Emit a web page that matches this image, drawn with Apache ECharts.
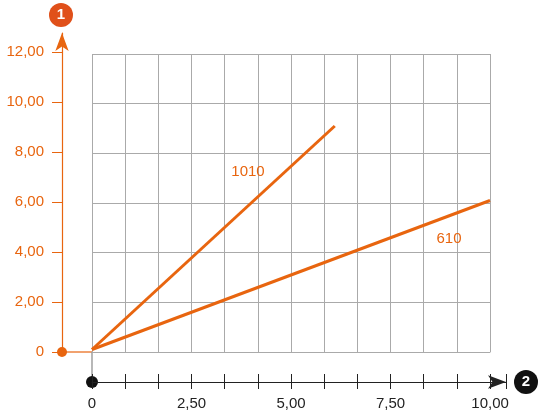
<!DOCTYPE html><html><head><meta charset="utf-8"><script src="https://cdn.jsdelivr.net/npm/echarts@6/dist/echarts.min.js"></script></head><body style="margin:0"><div id="c" style="width:540px;height:417px"></div><script>
const series1010=[[0,0.1],[6.1,9.1]];
const series610=[[0,0.1],[10,6.1]];
const label1010=[3.92,7.24], label610=[8.97,4.56];
const OR='#e8650f';
const fmt=v=>v===0?'0':v.toFixed(2).replace('.',',');
const font={fontFamily:'Liberation Sans',fontSize:15};
const ch=echarts.init(document.getElementById('c'));
ch.setOption({animation:false,
grid:[{left:92,right:50,top:54,bottom:65},{left:62,width:1,top:33,bottom:65},{left:92,width:414,top:382,height:0}],
xAxis:[
{gridIndex:0,position:'bottom',min:0,max:10,interval:10/12,axisLabel:{show:false},axisTick:{show:false},axisLine:{lineStyle:{color:'#aaa'}},splitLine:{lineStyle:{color:'#aaa'}}},
{gridIndex:1,show:false,min:0,max:1},
{gridIndex:2,position:'bottom',min:0,max:10.4,interval:10/12,axisLabel:{show:false},axisTick:{length:8,inside:true,lineStyle:{color:'#222'}},axisLine:{lineStyle:{color:'#222',width:1.2},symbol:['none','arrow'],symbolSize:[10,18]},splitLine:{show:false}},
{gridIndex:2,position:'bottom',offset:0,min:0,max:10.4,interval:2.5,axisLabel:{formatter:fmt,color:'#222',margin:14,showMaxLabel:false,...font},axisTick:{show:false},axisLine:{show:false},splitLine:{show:false}},
{gridIndex:2,position:'bottom',offset:0,min:0,max:10.4,interval:10/12,axisLabel:{show:false},axisTick:{length:7,lineStyle:{color:'#222'}},axisLine:{show:false},splitLine:{show:false}}
],
yAxis:[
{gridIndex:0,min:0,max:12,interval:2,axisLabel:{show:false},axisTick:{show:false},axisLine:{show:false},splitLine:{lineStyle:{color:'#aaa'}}},
{gridIndex:1,min:0,max:12.76,interval:2,axisLabel:{formatter:fmt,color:OR,margin:18,showMaxLabel:false,...font},axisTick:{length:10,lineStyle:{color:OR}},axisLine:{lineStyle:{color:OR,width:1.2},symbol:['none','arrow'],symbolSize:[10,18]},splitLine:{show:false}},
{gridIndex:2,show:false,min:0,max:1}
],
series:[
{type:'line',xAxisIndex:0,yAxisIndex:0,data:series1010,symbol:'none',lineStyle:{color:OR,width:3},
 markPoint:{symbol:'circle',symbolSize:1,itemStyle:{color:'transparent'},label:{show:true,position:'inside',formatter:'1010',color:OR,...font},data:[{coord:label1010}]}},
{type:'line',xAxisIndex:0,yAxisIndex:0,data:series610,symbol:'none',lineStyle:{color:OR,width:3},
 markPoint:{symbol:'circle',symbolSize:1,itemStyle:{color:'transparent'},label:{show:true,position:'inside',formatter:'610',color:OR,...font},data:[{coord:label610}]}}
],
graphic:[
{type:'line',shape:{x1:62,y1:352,x2:92,y2:352},style:{stroke:OR,lineWidth:1.2}},
{type:'line',shape:{x1:92,y1:352,x2:92,y2:382},style:{stroke:'#888',lineWidth:1.2}},
{type:'circle',shape:{cx:62,cy:352,r:5},style:{fill:OR}},
{type:'circle',shape:{cx:92,cy:382,r:6},style:{fill:'#111'}},
{type:'circle',shape:{cx:61,cy:15,r:12},style:{fill:'#e0501a'}},
{type:'text',x:61,y:15,style:{text:'1',fill:'#fff',fontSize:15,fontWeight:'bold',fontFamily:'Liberation Sans',align:'center',verticalAlign:'middle'}},
{type:'circle',shape:{cx:526,cy:382,r:12},style:{fill:'#111'}},
{type:'text',x:526,y:382,style:{text:'2',fill:'#fff',fontSize:15,fontWeight:'bold',fontFamily:'Liberation Sans',align:'center',verticalAlign:'middle'}}
]});
</script></body></html>
